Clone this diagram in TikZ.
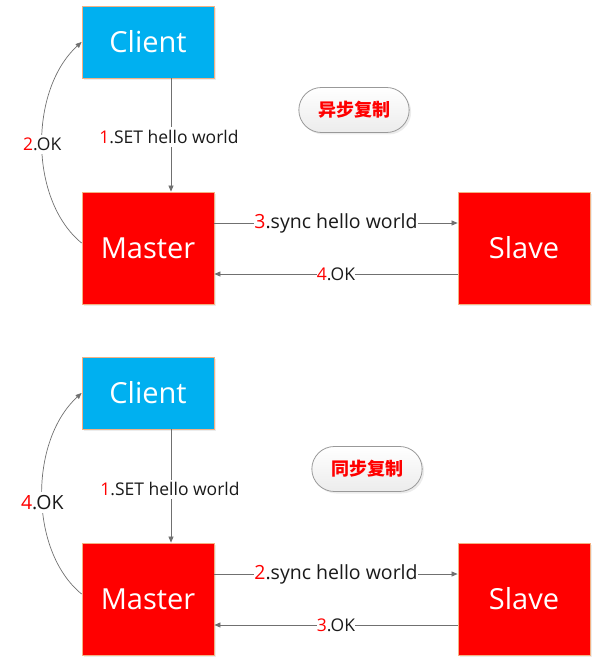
\documentclass[tikz,border=0pt]{standalone}
\usepackage{fontspec}
\setmainfont{Open Sans}
\newfontfamily\cjk{Noto Sans CJK SC}
\usetikzlibrary{arrows.meta,shadows,shapes.misc}
\definecolor{cbox}{HTML}{00B0F0}
\definecolor{rbox}{HTML}{FF0000}
\definecolor{bord}{HTML}{F4B183}
\definecolor{lnk}{HTML}{707070}
\definecolor{txt}{HTML}{1A1A1A}
\tikzset{
  boxbase/.style={draw=bord, line width=0.8pt, minimum width=132pt, text=white,
    font=\fontsize{29}{32}\selectfont, drop shadow={opacity=0.15, shadow xshift=2pt, shadow yshift=-2pt}},
  clientbox/.style={boxbase, fill=cbox, minimum height=72pt},
  redbox/.style={boxbase, fill=rbox, minimum height=112pt},
  conn/.style={draw=lnk, line width=0.7pt, -{Triangle[length=6pt,width=5pt]}},
  lbl/.style={fill=white, inner xsep=0pt, inner ysep=3pt, text=txt, font=\fontsize{17.5}{20}\selectfont},
  biglbl/.style={lbl, font=\fontsize{19.5}{22}\selectfont},
  pill/.style={rounded rectangle, draw=gray!80, line width=0.8pt, top color=white, bottom color=gray!15,
    minimum width=117pt, minimum height=45pt, text=red, font=\cjk\bfseries\fontsize{18}{20}\selectfont,
    drop shadow={opacity=0.15, shadow xshift=2pt, shadow yshift=-2pt}},
}
\newcommand{\rn}[1]{\textcolor{red}{#1}}
\begin{document}
\begin{tikzpicture}[x=1pt,y=-1pt]
\useasboundingbox (0,0) rectangle (614,660);
% ---------- top ----------
\node[clientbox] (c1) at (148,42) {Client};
\node[redbox] (m1) at (148,248) {Master};
\node[redbox] (s1) at (524,248) {Slave};
\node[pill] (p1) at (354,110) {异步复制};
\draw[conn] (c1.south -| 171,0) -- node[lbl, pos=0.52, xshift=-2pt] {\rn{1}.SET hello world} (m1.north -| 171,0);
\draw[conn] (m1.east |- 0,223) -- node[biglbl] {\rn{3}.sync hello world} (s1.west |- 0,223);
\draw[conn] (s1.west |- 0,274) -- node[lbl] {\rn{4}.OK} (m1.east |- 0,274);
\draw[conn] (m1.west |- 0,243) .. controls (29,200) and (29,90) .. node[lbl, inner xsep=1pt] {\rn{2}.OK} (c1.west);
% ---------- bottom ----------
\node[clientbox] (c2) at (148,393) {Client};
\node[redbox] (m2) at (148,599) {Master};
\node[redbox] (s2) at (524,599) {Slave};
\node[pill] (p2) at (367,469) {同步复制};
\draw[conn] (c2.south -| 171,0) -- node[lbl, pos=0.53, xshift=-1pt] {\rn{1}.SET hello world} (m2.north -| 171,0);
\draw[conn] (m2.east |- 0,574) -- node[biglbl] {\rn{2}.sync hello world} (s2.west |- 0,574);
\draw[conn] (s2.west |- 0,625) -- node[lbl] {\rn{3}.OK} (m2.east |- 0,625);
\draw[conn] (m2.west |- 0,594) .. controls (29,551) and (29,441) .. node[biglbl, inner xsep=1pt, pos=0.47] {\rn{4}.OK} (c2.west);
\end{tikzpicture}
\end{document}
